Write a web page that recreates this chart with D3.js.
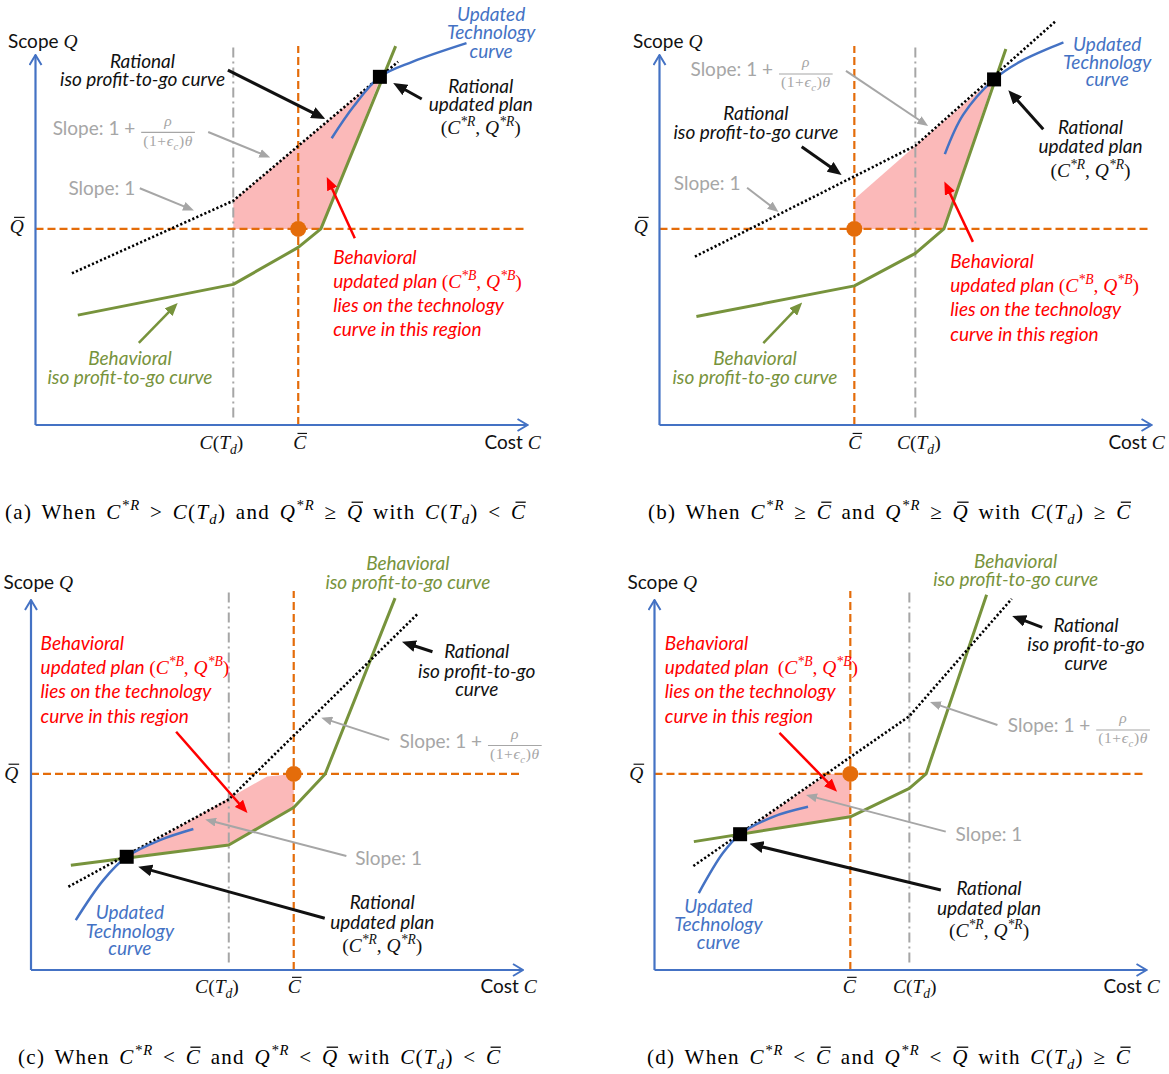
<!DOCTYPE html>
<html>
<head>
<meta charset="utf-8">
<script src="https://cdn.jsdelivr.net/npm/d3@7"></script>
<style>
  html, body { margin: 0; padding: 0; background: #fff; }
  svg text { white-space: pre; }
</style>
</head>
<body>
<svg id="fig" width="1169" height="1074"></svg>
<script>
// ---------------------------------------------------------------
// Data: cost C and scope Q in relative units (axes run 0..100)
// one entry per panel (a)..(d)
// ---------------------------------------------------------------
const panelKeys = ["a", "b", "c", "d"];
const cBar = [53.4, 39.6, 53.4, 39.8];          // target cost  C̄
const qBar = [53, 53, 53, 53];                  // target scope Q̄
const cTd  = [40.2, 52, 40.2, 51.8];            // C(T_d)

// behavioral iso profit-to-go curve (piecewise linear)
const behavioralA = [[8.6, 29.7], [40.2, 38], [53.4, 48], [58, 53], [73.2, 102.4]];
const behavioralB = [[7.5, 29.3], [39.6, 37.6], [52, 46.4], [57.8, 53], [70.4, 101.6]];
const behavioralC = [[8.1, 28.3], [40.2, 33.8], [53.4, 43.9], [59.8, 53], [74, 100.5]];
const behavioralD = [[8, 34.7], [39.8, 41.4], [51.8, 49.1], [55.2, 53], [67.5, 101.4]];

// rational iso profit-to-go curve (slope 1, then 1 + rho/((1+eps)theta))
const rationalA = [[7.4, 41], [40.2, 60.6], [73.7, 98.2]];
const rationalB = [[7.2, 45.5], [52, 75.5], [80.4, 109]];
const rationalC = [[7.6, 22.5], [40.2, 46.1], [78.7, 96.4]];
const rationalD = [[7.9, 28.1], [51.8, 68.6], [72.6, 100.3]];

// updated technology curve
const technologyA = [[60.2, 77.5], [64.6, 86], [70, 94.1], [76.7, 98.2], [87.6, 103.2]];
const technologyB = [[58, 73.2], [61.7, 83.8], [68, 93.4], [73.3, 98.2], [82.1, 103.4]];
const technologyC = [[9.1, 13.5], [14.7, 24.3], [19.45, 30.6], [26.2, 35.1], [33, 38.1]];
const technologyD = [[9, 20.8], [13.9, 31.6], [17.4, 36.7], [24.1, 41.4], [31.2, 44.1]];

// region holding the behavioral updated plan
const regionA = [[40.2, 60.6], [70.3, 94.3], [58, 53], [40.2, 53]];
const regionB = [[39.6, 61], [52, 75.5], [68, 93.8], [57.8, 53], [39.6, 53]];
const regionC = [[19.45, 30.6], [48, 52.3], [53.4, 53], [53.4, 43.9], [40.2, 33.8]];
const regionD = [[17.4, 36.7], [35.1, 53], [39.8, 53], [39.8, 41.4]];

// rational updated plan (C*R, Q*R)
const rationalPlan = [[70, 94.1], [68, 93.4], [19.45, 30.6], [17.4, 36.7]];

const captions = [
  "(a) When $C^{*R} > C(T_d)$ and $Q^{*R} \\ge \\bar{Q}$ with $C(T_d) < \\bar{C}$",
  "(b) When $C^{*R} \\ge \\bar{C}$ and $Q^{*R} \\ge \\bar{Q}$ with $C(T_d) \\ge \\bar{C}$",
  "(c) When $C^{*R} < \\bar{C}$ and $Q^{*R} < \\bar{Q}$ with $C(T_d) < \\bar{C}$",
  "(d) When $C^{*R} < \\bar{C}$ and $Q^{*R} < \\bar{Q}$ with $C(T_d) \\ge \\bar{C}$"
];

const behavioral = [behavioralA, behavioralB, behavioralC, behavioralD];
const rational = [rationalA, rationalB, rationalC, rationalD];
const technology = [technologyA, technologyB, technologyC, technologyD];
const region = [regionA, regionB, regionC, regionD];

// ---------------------------------------------------------------
// Layout
// ---------------------------------------------------------------
const origins = [[35.5, 425], [659.5, 425], [31, 970], [654.5, 970]];
const captionPos = [[5, 519], [648, 519], [18, 1064], [647, 1064]];

const LABEL = "Lato, 'Open Sans', sans-serif";
const MATH = "'Liberation Serif', 'DejaVu Serif', serif";
const LSIZE = 19, MSIZE = 19.5;
const COL = {
  black: "#111111", blue: "#4472C4", green: "#77933C", gray: "#A6A6A6",
  red: "#FF0000", orange: "#E46C0A", pink: "#FBB9B9", axis: "#4472C4"
};

// annotation placement per panel, in data units [C, Q]
const notes = [
  { // (a)
    texts: [
      ["Rational", [21.75, 96.6], "middle", "black"],
      ["iso profit-to-go curve", [21.75, 91.6], "middle", "black"],
      ["Updated", [92.6, 109.2], "middle", "blue"],
      ["Technology", [92.6, 104.2], "middle", "blue"],
      ["curve", [92.6, 99.3], "middle", "blue"],
      ["Rational", [90.5, 89.8], "middle", "black"],
      ["updated plan", [90.5, 84.9], "middle", "black"],
      ["$(C^{*R}, Q^{*R})$", [90.5, 78.7], "middle", "black"],
      ["Behavioral", [60.5, 43.4], "start", "red"],
      ["updated plan $(C^{*B}, Q^{*B})$", [60.5, 37.1], "start", "red"],
      ["lies on the technology", [60.5, 30.5], "start", "red"],
      ["curve in this region", [60.5, 24.1], "start", "red"],
      ["Behavioral", [19.2, 16.1], "middle", "green"],
      ["iso profit-to-go curve", [19.2, 11], "middle", "green"]
    ],
    slopeFrac: [3.5, 78.4], slopeOne: [6.7, 62.3],
    arrows: [["black", [39.1, 95.9], [58.9, 82.7]], ["black", [78.5, 88.1], [72.7, 92.4]],
             ["gray", [35.1, 79.2], [47.7, 72.3]], ["gray", [21.2, 64], [32.2, 58]],
             ["red", [64.9, 50.5], [59.2, 67]], ["green", [21, 22.2], [28.9, 33]]],
    axisText: { scope: [-5.6, 101.9], qbar: [-3.8, 51.9], ctd: [37.8, -6.5], cbar: [53.7, -6.5], cost: [102.7, -6.5] }
  },
  { // (b)
    texts: [
      ["Rational", [19.6, 82.4], "middle", "black"],
      ["iso profit-to-go curve", [19.6, 77.2], "middle", "black"],
      ["Updated", [91, 101.1], "middle", "blue"],
      ["Technology", [91, 96.3], "middle", "blue"],
      ["curve", [91, 91.6], "middle", "blue"],
      ["Rational", [87.6, 78.6], "middle", "black"],
      ["updated plan", [87.6, 73.6], "middle", "black"],
      ["$(C^{*R}, Q^{*R})$", [87.6, 67.1], "middle", "black"],
      ["Behavioral", [59.1, 42.5], "start", "red"],
      ["updated plan $(C^{*B}, Q^{*B})$", [59.1, 35.9], "start", "red"],
      ["lies on the technology", [59.1, 29.5], "start", "red"],
      ["curve in this region", [59.1, 22.7], "start", "red"],
      ["Behavioral", [19.4, 16.1], "middle", "green"],
      ["iso profit-to-go curve", [19.4, 11], "middle", "green"]
    ],
    slopeFrac: [6.3, 94.2], slopeOne: [2.9, 63.6],
    arrows: [["black", [28.9, 75.2], [37, 67.6]], ["black", [78, 79.9], [70.9, 90.5]],
             ["gray", [37.9, 95.7], [54.6, 80.8]], ["gray", [17.8, 64.1], [24.2, 57.6]],
             ["red", [63.7, 49.5], [57.9, 65.8]], ["green", [21.1, 22.1], [29, 33.1]]],
    axisText: { scope: [-5.4, 101.9], qbar: [-3.8, 51.9], ctd: [52.7, -6.5], cbar: [39.7, -6.5], cost: [102.7, -6.5] }
  },
  { // (c)
    texts: [
      ["Behavioral", [76.6, 108.1], "middle", "green"],
      ["iso profit-to-go curve", [76.6, 102.9], "middle", "green"],
      ["Rational", [90.6, 84.4], "middle", "black"],
      ["iso profit-to-go", [90.6, 79], "middle", "black"],
      ["curve", [90.6, 74.1], "middle", "black"],
      ["Behavioral", [1.95, 86.5], "start", "red"],
      ["updated plan $(C^{*B}, Q^{*B})$", [1.95, 79.9], "start", "red"],
      ["lies on the technology", [1.95, 73.4], "start", "red"],
      ["curve in this region", [1.95, 66.7], "start", "red"],
      ["Updated", [20.1, 13.7], "middle", "blue"],
      ["Technology", [20.1, 8.7], "middle", "blue"],
      ["curve", [20.1, 4], "middle", "blue"],
      ["Rational", [71.4, 16.6], "middle", "black"],
      ["updated plan", [71.4, 11.2], "middle", "black"],
      ["$(C^{*R}, Q^{*R})$", [71.4, 4.8], "middle", "black"]
    ],
    slopeFrac: [74.9, 60], slopeOne: [65.9, 28.4],
    arrows: [["black", [81.6, 86], [75.4, 88.7]], ["black", [59.7, 14], [21.8, 27.9]],
             ["gray", [72.8, 62.2], [59, 68.2]], ["gray", [64.1, 30.8], [35.4, 40.7]],
             ["red", [29.5, 64.4], [44, 42.4]]],
    axisText: { scope: [-5.6, 103], qbar: [-4, 51.4], ctd: [37.8, -6.2], cbar: [53.5, -6.2], cost: [102.8, -6.2] }
  },
  { // (d)
    texts: [
      ["Behavioral", [73.4, 108.7], "middle", "green"],
      ["iso profit-to-go curve", [73.4, 103.8], "middle", "green"],
      ["Rational", [87.7, 91.4], "middle", "black"],
      ["iso profit-to-go", [87.7, 86.2], "middle", "black"],
      ["curve", [87.7, 81.1], "middle", "black"],
      ["Behavioral", [2.1, 86.5], "start", "red"],
      ["updated plan  $(C^{*B}, Q^{*B})$", [2.1, 79.9], "start", "red"],
      ["lies on the technology", [2.1, 73.4], "start", "red"],
      ["curve in this region", [2.1, 66.7], "start", "red"],
      ["Updated", [13, 15.5], "middle", "blue"],
      ["Technology", [13, 10.5], "middle", "blue"],
      ["curve", [13, 5.6], "middle", "blue"],
      ["Rational", [68, 20.2], "middle", "black"],
      ["updated plan", [68, 15], "middle", "black"],
      ["$(C^{*R}, Q^{*R})$", [68, 8.9], "middle", "black"]
    ],
    slopeFrac: [71.8, 64.2], slopeOne: [61.2, 35],
    arrows: [["black", [78.8, 92.6], [72.7, 95.7]], ["black", [58.2, 21.6], [19.3, 34.1]],
             ["gray", [69.7, 66.2], [56, 72.4]], ["gray", [59.2, 37.4], [30.8, 47.3]],
             ["red", [25.4, 64.1], [37.1, 48.2]]],
    axisText: { scope: [-5.5, 103], qbar: [-3.7, 51.4], ctd: [52.9, -6.2], cbar: [39.6, -6.2], cost: [102.7, -6.2] }
  }
];

// ---------------------------------------------------------------
// Scales and helpers
// ---------------------------------------------------------------
const x = d3.scaleLinear().domain([0, 100]).range([0, 492]);
const y = d3.scaleLinear().domain([0, 100]).range([0, -370]);
const line = d3.line().x(d => x(d[0])).y(d => y(d[1]));
const smooth = d3.line().x(d => x(d[0])).y(d => y(d[1])).curve(d3.curveCatmullRom.alpha(0.5));

const svg = d3.select("#fig");
const defs = svg.append("defs");

const heads = { black: [14, 12], gray: [11, 9], red: [13, 11], green: [13, 11] };
const widths = { black: 3, gray: 2, red: 2.5, green: 2.5 };
Object.entries(heads).forEach(([k, [len, wid]]) => {
  defs.append("marker").attr("id", "head-" + k)
    .attr("viewBox", `0 0 ${len} ${wid}`).attr("refX", len).attr("refY", wid / 2)
    .attr("markerWidth", len).attr("markerHeight", wid)
    .attr("markerUnits", "userSpaceOnUse").attr("orient", "auto")
    .append("path").attr("d", `M0,0L${len},${wid / 2}L0,${wid}Z`).attr("fill", COL[k]);
});
defs.append("marker").attr("id", "axis-head")
  .attr("viewBox", "-1 -1 12 14").attr("refX", 10).attr("refY", 6)
  .attr("markerWidth", 12).attr("markerHeight", 14)
  .attr("markerUnits", "userSpaceOnUse").attr("orient", "auto")
  .append("path").attr("d", "M0,0L10,6L0,12").attr("fill", "none")
  .attr("stroke", COL.axis).attr("stroke-width", 2);

// tiny TeX-like parser: $...$ math, ^{} sup, _x sub, \bar{X}, \ge, greek
function parseRich(s) {
  const out = [];
  let math = false, i = 0, buf = "";
  const push = (t, k) => {
    if (!t) return;
    const last = out[out.length - 1];
    if (last && last.k === k && k !== "bar") last.t += t; else out.push({ t, k });
  };
  while (i < s.length) {
    const ch = s[i];
    if (ch === "$") { push(buf, "text"); buf = ""; math = !math; i++; continue; }
    if (!math) { buf += ch; i++; continue; }
    if (ch === "^" || ch === "_") {
      let content; i++;
      if (s[i] === "{") { const j = s.indexOf("}", i); content = s.slice(i + 1, j); i = j + 1; }
      else { content = s[i]; i++; }
      out.push({ t: content, k: ch === "^" ? "sup" : "sub" });
      continue;
    }
    if (ch === "\\") {
      const m = /^\\([a-zA-Z]+)/.exec(s.slice(i));
      const name = m[1]; i += m[0].length;
      if (name === "bar") {
        const j = s.indexOf("}", i); out.push({ t: s.slice(i + 1, j), k: "bar" }); i = j + 1;
      } else {
        const sym = { ge: "≥", le: "≤", rho: "ρ", theta: "θ", epsilon: "ϵ" }[name];
        push(sym, (name === "ge" || name === "le") ? "mr" : "mi");
      }
      continue;
    }
    push(ch, /[A-Za-z]/.test(ch) ? "mi" : "mr");
    i++;
  }
  push(buf, "text");
  return out;
}

function drawRich(parent, str, px, py, o) {
  const ms = o.msize || o.size;
  const t = parent.append("text")
    .attr("x", px).attr("y", py)
    .attr("text-anchor", o.anchor || "start")
    .attr("fill", o.fill)
    .style("font-family", o.family)
    .style("font-style", o.style || "normal")
    .style("font-size", o.size + "px");
  if (o.letterSpacing) t.style("letter-spacing", o.letterSpacing + "px");
  if (o.wordSpacing) t.style("word-spacing", o.wordSpacing + "px");
  let shift = 0, idx = 0;
  const bars = [];
  parseRich(str).forEach(s => {
    const ts = t.append("tspan").text(s.t);
    const target = s.k === "sup" ? -0.42 * ms : s.k === "sub" ? 0.24 * ms : 0;
    if (target !== shift) { ts.attr("dy", target - shift); shift = target; }
    if (s.k !== "text") {
      const small = s.k === "sup" || s.k === "sub";
      ts.style("font-family", MATH)
        .style("font-style", s.k === "mr" ? "normal" : "italic")
        .style("font-size", (small ? 0.7 * ms : ms) + "px");
    }
    if (s.k === "bar") bars.push(idx);
    idx += s.t.length;
  });
  const node = t.node();
  bars.forEach(ci => {
    const p = node.getStartPositionOfChar(ci);
    const e = node.getExtentOfChar(ci);
    const by = p.y - 0.8 * ms;
    parent.append("line")
      .attr("x1", p.x + 0.22 * ms).attr("x2", p.x + e.width + 0.04 * ms - (o.letterSpacing || 0))
      .attr("y1", by).attr("y2", by)
      .attr("stroke", o.fill).attr("stroke-width", Math.max(1, 0.06 * ms));
  });
  return t;
}

function arrow(g, kind, from, to) {
  const [x1, y1, x2, y2] = [x(from[0]), y(from[1]), x(to[0]), y(to[1])];
  const len = Math.hypot(x2 - x1, y2 - y1);
  const cut = heads[kind][0] * 0.5;
  const ex = x2 - (x2 - x1) / len * cut, ey = y2 - (y2 - y1) / len * cut;
  g.append("line").attr("x1", x1).attr("y1", y1).attr("x2", ex).attr("y2", ey)
    .attr("stroke", COL[kind]).attr("stroke-width", widths[kind]);
  // head placed on a short tail so its tip lands exactly on target
  g.append("path").attr("d", `M${ex},${ey}L${x2},${y2}`)
    .attr("stroke", "none").attr("fill", "none")
    .attr("marker-end", `url(#head-${kind})`);
}

function slopeLabel(g, at, withFraction) {
  const px = x(at[0]), py = y(at[1]);
  const t = g.append("text").attr("x", px).attr("y", py).attr("fill", COL.gray)
    .style("font-family", LABEL).style("font-size", LSIZE + "px")
    .text(withFraction ? "Slope: 1 + " : "Slope: 1");
  if (!withFraction) return;
  const fx = px + t.node().getComputedTextLength() + 1;
  const den = drawRich(g, "$(1+\\epsilon_c)\\theta$", fx + 2, py + 11,
    { family: MATH, size: 15.5, fill: COL.gray, letterSpacing: 0.6 });
  const dw = den.node().getComputedTextLength();
  g.append("line").attr("x1", fx).attr("x2", fx + dw + 4)
    .attr("y1", py - 2.5).attr("y2", py - 2.5)
    .attr("stroke", COL.gray).attr("stroke-width", 1.1);
  drawRich(g, "$\\rho$", fx + (dw + 4) / 2, py - 9,
    { family: MATH, size: 15.5, fill: COL.gray, anchor: "middle" });
}

// ---------------------------------------------------------------
// Panels
// ---------------------------------------------------------------
panelKeys.forEach((key, i) => {
  const g = svg.append("g").attr("class", "panel-" + key)
    .attr("transform", `translate(${origins[i][0]},${origins[i][1]})`);
  const note = notes[i];

  // region of the behavioral updated plan
  g.append("path").attr("d", line(region[i]) + "Z").attr("fill", COL.pink);

  // C(T_d), C̄ and Q̄ guides
  g.append("line").attr("x1", x(cTd[i])).attr("x2", x(cTd[i]))
    .attr("y1", y(2)).attr("y2", y(102.4))
    .attr("stroke", COL.gray).attr("stroke-width", 2).attr("stroke-dasharray", "10 4 2 4");
  g.append("line").attr("x1", x(cBar[i])).attr("x2", x(cBar[i]))
    .attr("y1", y(0)).attr("y2", y(102.4))
    .attr("stroke", COL.orange).attr("stroke-width", 2.2).attr("stroke-dasharray", "8 4");
  g.append("line").attr("x1", x(0)).attr("x2", x(100))
    .attr("y1", y(qBar[i])).attr("y2", y(qBar[i]))
    .attr("stroke", COL.orange).attr("stroke-width", 2.2).attr("stroke-dasharray", "8 4");

  // axes
  g.append("line").attr("x1", x(0)).attr("y1", y(0)).attr("x2", x(100)).attr("y2", y(0))
    .attr("stroke", COL.axis).attr("stroke-width", 2.2).attr("marker-end", "url(#axis-head)");
  g.append("line").attr("x1", x(0)).attr("y1", y(0)).attr("x2", x(0)).attr("y2", y(100))
    .attr("stroke", COL.axis).attr("stroke-width", 2.2).attr("marker-end", "url(#axis-head)");

  // curves
  g.append("path").attr("d", line(behavioral[i])).attr("fill", "none")
    .attr("stroke", COL.green).attr("stroke-width", 3).attr("stroke-linejoin", "round");
  g.append("path").attr("d", line(rational[i])).attr("fill", "none")
    .attr("stroke", "#000").attr("stroke-width", 2.6).attr("stroke-dasharray", "2.2 2.2");
  g.append("path").attr("d", smooth(technology[i])).attr("fill", "none")
    .attr("stroke", COL.blue).attr("stroke-width", 2.5);

  // (C̄, Q̄) and rational plan
  g.append("circle").attr("cx", x(cBar[i])).attr("cy", y(qBar[i])).attr("r", 8).attr("fill", COL.orange);
  g.append("rect").attr("x", x(rationalPlan[i][0]) - 7).attr("y", y(rationalPlan[i][1]) - 7)
    .attr("width", 14).attr("height", 14).attr("fill", "#000");

  // arrows
  note.arrows.forEach(([k, a, b]) => arrow(g, k, a, b));

  // annotation text
  note.texts.forEach(([str, at, anchor, c]) => {
    drawRich(g, str, x(at[0]), y(at[1]),
      { family: LABEL, style: "italic", size: LSIZE, msize: MSIZE, fill: COL[c], anchor });
  });
  slopeLabel(g, note.slopeFrac, true);
  slopeLabel(g, note.slopeOne, false);

  // axis labels
  const at = note.axisText;
  drawRich(g, "Scope $Q$", x(at.scope[0]), y(at.scope[1]), { family: LABEL, size: LSIZE, msize: MSIZE, fill: COL.black });
  drawRich(g, "$\\bar{Q}$", x(at.qbar[0]), y(at.qbar[1]), { family: MATH, size: MSIZE, fill: COL.black, anchor: "middle" });
  drawRich(g, "$C(T_d)$", x(at.ctd[0]), y(at.ctd[1]), { family: MATH, size: MSIZE, fill: COL.black, anchor: "middle" });
  drawRich(g, "$\\bar{C}$", x(at.cbar[0]), y(at.cbar[1]), { family: MATH, size: MSIZE, fill: COL.black, anchor: "middle" });
  drawRich(g, "Cost $C$", x(at.cost[0]), y(at.cost[1]), { family: LABEL, size: LSIZE, msize: MSIZE, fill: COL.black, anchor: "end" });

  // caption
  drawRich(svg, captions[i], captionPos[i][0], captionPos[i][1],
    { family: MATH, size: 21, fill: "#000", letterSpacing: 1.3, wordSpacing: 3 });
});
</script>
</body>
</html>
